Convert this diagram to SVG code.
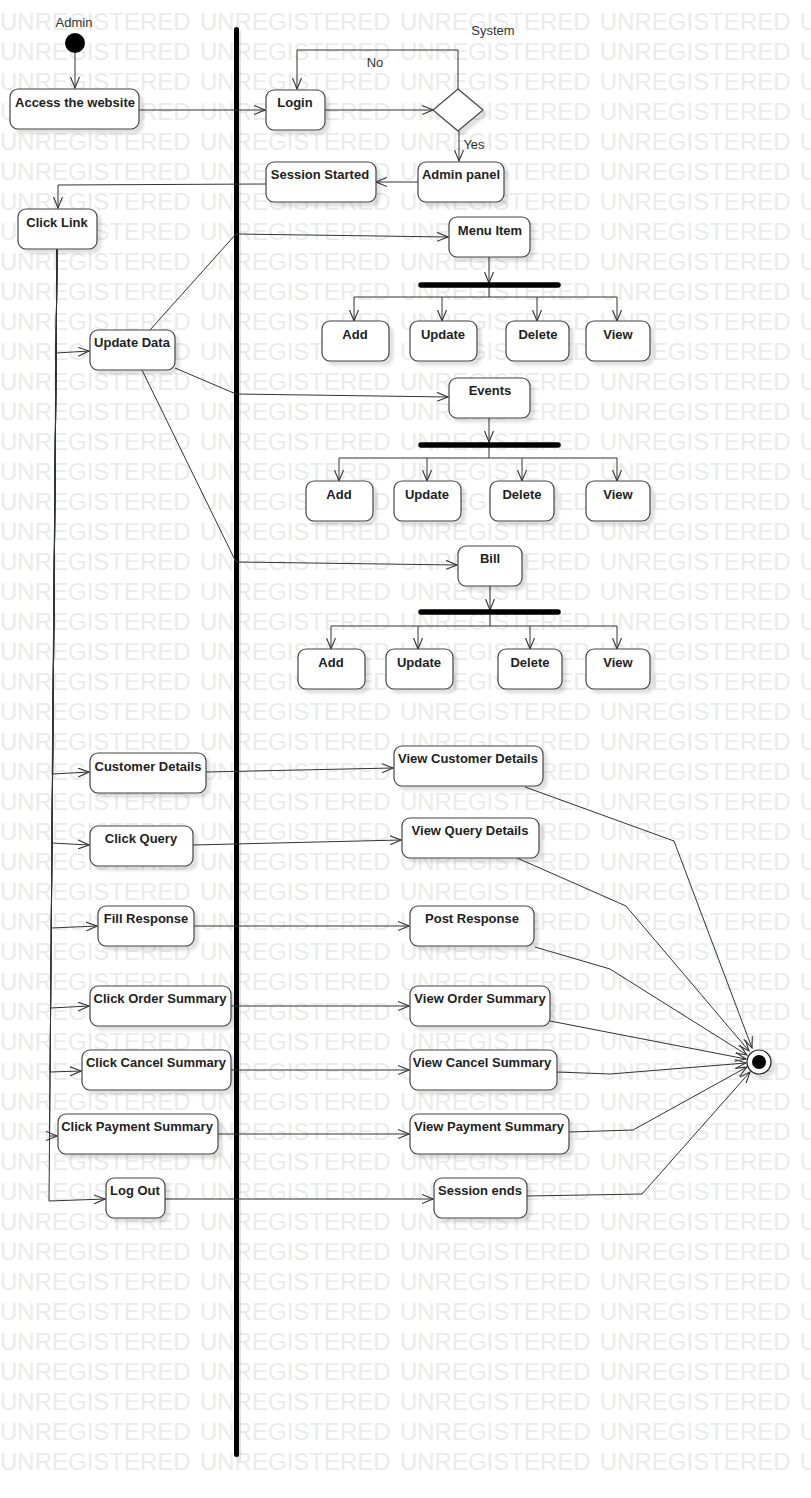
<svg xmlns="http://www.w3.org/2000/svg" width="811" height="1498" viewBox="0 0 811 1498">
<style>
.wm{font-family:"Liberation Sans",Arial,sans-serif;font-size:24px;fill:#ebebeb;word-spacing:2.6px}
.box{fill:#fff;stroke:#444;stroke-width:1.2;filter:url(#sh)}
.t{font-family:"Liberation Sans",Arial,sans-serif;font-size:13px;font-weight:bold;fill:#222;text-anchor:middle}
.lbl{font-family:"Liberation Sans",Arial,sans-serif;font-size:13px;fill:#333;text-anchor:middle}
.c{fill:none;stroke:#333;stroke-width:1}
.ca{fill:none;stroke:#333;stroke-width:1;marker-end:url(#arr)}
.fork{stroke:#000;stroke-width:5.5;stroke-linecap:round}
</style>
<defs>
<marker id="arr" viewBox="0 0 12 10" refX="11" refY="5" markerWidth="12" markerHeight="10" markerUnits="userSpaceOnUse" orient="auto"><path d="M0,0.5 L11,5 L0,9.5" fill="none" stroke="#333" stroke-width="1.1"/></marker>
<filter id="sh" x="-20%" y="-20%" width="150%" height="160%"><feDropShadow dx="4" dy="4" stdDeviation="1.5" flood-color="#000" flood-opacity="0.12"/></filter>
</defs>
<rect width="811" height="1498" fill="#fff"/>
<g id="watermark">
<text class="wm" x="0" y="30">UNREGISTERED UNREGISTERED UNREGISTERED UNREGISTERED UNREGISTERED</text>
<text class="wm" x="0" y="60">UNREGISTERED UNREGISTERED UNREGISTERED UNREGISTERED UNREGISTERED</text>
<text class="wm" x="0" y="90">UNREGISTERED UNREGISTERED UNREGISTERED UNREGISTERED UNREGISTERED</text>
<text class="wm" x="0" y="120">UNREGISTERED UNREGISTERED UNREGISTERED UNREGISTERED UNREGISTERED</text>
<text class="wm" x="0" y="150">UNREGISTERED UNREGISTERED UNREGISTERED UNREGISTERED UNREGISTERED</text>
<text class="wm" x="0" y="180">UNREGISTERED UNREGISTERED UNREGISTERED UNREGISTERED UNREGISTERED</text>
<text class="wm" x="0" y="210">UNREGISTERED UNREGISTERED UNREGISTERED UNREGISTERED UNREGISTERED</text>
<text class="wm" x="0" y="240">UNREGISTERED UNREGISTERED UNREGISTERED UNREGISTERED UNREGISTERED</text>
<text class="wm" x="0" y="270">UNREGISTERED UNREGISTERED UNREGISTERED UNREGISTERED UNREGISTERED</text>
<text class="wm" x="0" y="300">UNREGISTERED UNREGISTERED UNREGISTERED UNREGISTERED UNREGISTERED</text>
<text class="wm" x="0" y="330">UNREGISTERED UNREGISTERED UNREGISTERED UNREGISTERED UNREGISTERED</text>
<text class="wm" x="0" y="360">UNREGISTERED UNREGISTERED UNREGISTERED UNREGISTERED UNREGISTERED</text>
<text class="wm" x="0" y="390">UNREGISTERED UNREGISTERED UNREGISTERED UNREGISTERED UNREGISTERED</text>
<text class="wm" x="0" y="420">UNREGISTERED UNREGISTERED UNREGISTERED UNREGISTERED UNREGISTERED</text>
<text class="wm" x="0" y="450">UNREGISTERED UNREGISTERED UNREGISTERED UNREGISTERED UNREGISTERED</text>
<text class="wm" x="0" y="480">UNREGISTERED UNREGISTERED UNREGISTERED UNREGISTERED UNREGISTERED</text>
<text class="wm" x="0" y="510">UNREGISTERED UNREGISTERED UNREGISTERED UNREGISTERED UNREGISTERED</text>
<text class="wm" x="0" y="540">UNREGISTERED UNREGISTERED UNREGISTERED UNREGISTERED UNREGISTERED</text>
<text class="wm" x="0" y="570">UNREGISTERED UNREGISTERED UNREGISTERED UNREGISTERED UNREGISTERED</text>
<text class="wm" x="0" y="600">UNREGISTERED UNREGISTERED UNREGISTERED UNREGISTERED UNREGISTERED</text>
<text class="wm" x="0" y="630">UNREGISTERED UNREGISTERED UNREGISTERED UNREGISTERED UNREGISTERED</text>
<text class="wm" x="0" y="660">UNREGISTERED UNREGISTERED UNREGISTERED UNREGISTERED UNREGISTERED</text>
<text class="wm" x="0" y="690">UNREGISTERED UNREGISTERED UNREGISTERED UNREGISTERED UNREGISTERED</text>
<text class="wm" x="0" y="720">UNREGISTERED UNREGISTERED UNREGISTERED UNREGISTERED UNREGISTERED</text>
<text class="wm" x="0" y="750">UNREGISTERED UNREGISTERED UNREGISTERED UNREGISTERED UNREGISTERED</text>
<text class="wm" x="0" y="780">UNREGISTERED UNREGISTERED UNREGISTERED UNREGISTERED UNREGISTERED</text>
<text class="wm" x="0" y="810">UNREGISTERED UNREGISTERED UNREGISTERED UNREGISTERED UNREGISTERED</text>
<text class="wm" x="0" y="840">UNREGISTERED UNREGISTERED UNREGISTERED UNREGISTERED UNREGISTERED</text>
<text class="wm" x="0" y="870">UNREGISTERED UNREGISTERED UNREGISTERED UNREGISTERED UNREGISTERED</text>
<text class="wm" x="0" y="900">UNREGISTERED UNREGISTERED UNREGISTERED UNREGISTERED UNREGISTERED</text>
<text class="wm" x="0" y="930">UNREGISTERED UNREGISTERED UNREGISTERED UNREGISTERED UNREGISTERED</text>
<text class="wm" x="0" y="960">UNREGISTERED UNREGISTERED UNREGISTERED UNREGISTERED UNREGISTERED</text>
<text class="wm" x="0" y="990">UNREGISTERED UNREGISTERED UNREGISTERED UNREGISTERED UNREGISTERED</text>
<text class="wm" x="0" y="1020">UNREGISTERED UNREGISTERED UNREGISTERED UNREGISTERED UNREGISTERED</text>
<text class="wm" x="0" y="1050">UNREGISTERED UNREGISTERED UNREGISTERED UNREGISTERED UNREGISTERED</text>
<text class="wm" x="0" y="1080">UNREGISTERED UNREGISTERED UNREGISTERED UNREGISTERED UNREGISTERED</text>
<text class="wm" x="0" y="1110">UNREGISTERED UNREGISTERED UNREGISTERED UNREGISTERED UNREGISTERED</text>
<text class="wm" x="0" y="1140">UNREGISTERED UNREGISTERED UNREGISTERED UNREGISTERED UNREGISTERED</text>
<text class="wm" x="0" y="1170">UNREGISTERED UNREGISTERED UNREGISTERED UNREGISTERED UNREGISTERED</text>
<text class="wm" x="0" y="1200">UNREGISTERED UNREGISTERED UNREGISTERED UNREGISTERED UNREGISTERED</text>
<text class="wm" x="0" y="1230">UNREGISTERED UNREGISTERED UNREGISTERED UNREGISTERED UNREGISTERED</text>
<text class="wm" x="0" y="1260">UNREGISTERED UNREGISTERED UNREGISTERED UNREGISTERED UNREGISTERED</text>
<text class="wm" x="0" y="1290">UNREGISTERED UNREGISTERED UNREGISTERED UNREGISTERED UNREGISTERED</text>
<text class="wm" x="0" y="1320">UNREGISTERED UNREGISTERED UNREGISTERED UNREGISTERED UNREGISTERED</text>
<text class="wm" x="0" y="1350">UNREGISTERED UNREGISTERED UNREGISTERED UNREGISTERED UNREGISTERED</text>
<text class="wm" x="0" y="1380">UNREGISTERED UNREGISTERED UNREGISTERED UNREGISTERED UNREGISTERED</text>
<text class="wm" x="0" y="1410">UNREGISTERED UNREGISTERED UNREGISTERED UNREGISTERED UNREGISTERED</text>
<text class="wm" x="0" y="1440">UNREGISTERED UNREGISTERED UNREGISTERED UNREGISTERED UNREGISTERED</text>
<text class="wm" x="0" y="1470">UNREGISTERED UNREGISTERED UNREGISTERED UNREGISTERED UNREGISTERED</text>
</g>
<g id="swimlane-divider">
<rect x="234" y="27" width="5" height="1430" rx="2.5" fill="#000" filter="url(#sh)"/>
</g>
<g id="lane-labels">
<text class="lbl" x="74" y="27">Admin</text>
<text class="lbl" x="493" y="35">System</text>
</g>
<g id="connectors">
<path class="ca" d="M75,53 L75,88"/>
<path class="ca" d="M139,110 L265,110"/>
<path class="ca" d="M325,110 L433,110"/>
<path class="ca" d="M458,89 L458,50 L297,50 L297,89"/>
<text class="lbl" x="375" y="67">No</text>
<path class="ca" d="M459,131 L459,161"/>
<text class="lbl" x="474" y="149">Yes</text>
<path class="ca" d="M418,182 L376,182"/>
<path class="ca" d="M266,184 L58,185 L58,208"/>
<path class="ca" d="M57,249 L56.2,353 L89,351"/>
<path class="c" d="M150,330 L236,234"/>
<path class="ca" d="M236,234 L448,237"/>
<path class="c" d="M175,368 L236,394"/>
<path class="ca" d="M236,394 L448,397"/>
<path class="c" d="M142,370 L236,562"/>
<path class="ca" d="M236,562 L457,565"/>
<path class="ca" d="M489,257 L489,283"/>
<path class="c" d="M489,287 L489,297"/>
<path class="ca" d="M354,297 L617,297 M354,297 L354,321"/>
<path class="ca" d="M442,297 L442,321"/>
<path class="ca" d="M537,297 L537,321"/>
<path class="ca" d="M617,297 L617,321"/>
<path class="ca" d="M489,418 L489,442"/>
<path class="c" d="M489,447 L489,458 M339,458 L617,458"/>
<path class="ca" d="M339,458 L339,481"/>
<path class="ca" d="M427,458 L427,481"/>
<path class="ca" d="M522,458 L522,481"/>
<path class="ca" d="M617,458 L617,481"/>
<path class="ca" d="M490,586 L490,610"/>
<path class="c" d="M490,615 L490,626 M331,626 L617,626"/>
<path class="ca" d="M331,626 L331,649"/>
<path class="ca" d="M418,626 L418,649"/>
<path class="ca" d="M530,626 L530,649"/>
<path class="ca" d="M617,626 L617,649"/>
<path class="ca" d="M57,249 L52.2,774 L89,772"/>
<path class="ca" d="M57,249 L51.8,843 L89,845"/>
<path class="ca" d="M57,249 L51.2,928 L97,926"/>
<path class="ca" d="M57,249 L50.6,1008 L89,1006"/>
<path class="ca" d="M57,249 L50.1,1072 L81,1071"/>
<path class="ca" d="M57,249 L49.5,1136 L57,1136"/>
<path class="ca" d="M57,249 L49,1201 L105,1199"/>
<path class="ca" d="M206,772 L393,768"/>
<path class="ca" d="M193,845 L401,840"/>
<path class="ca" d="M194,926 L409,926"/>
<path class="ca" d="M231,1006 L409,1006"/>
<path class="ca" d="M231,1070 L409,1070"/>
<path class="ca" d="M218,1134 L409,1134"/>
<path class="ca" d="M165,1199 L433,1199"/>
<path class="ca" d="M525,787 L674,841 L752,1048"/>
<path class="ca" d="M517,858 L626,906 L749,1051"/>
<path class="ca" d="M535,947 L610,969 L747,1055"/>
<path class="ca" d="M550,1021 L746,1059"/>
<path class="ca" d="M557,1072 L610,1074 L746,1063"/>
<path class="ca" d="M569,1132 L633,1130 L747,1067"/>
<path class="ca" d="M527,1196 L642,1194 L750,1072"/>
</g>
<g id="start"><circle cx="75" cy="43" r="10" fill="#000"/></g>
<g id="access"><rect class="box" x="10" y="89" width="129" height="40" rx="8"/><text class="t" x="75" y="107">Access the website</text></g>
<g id="login"><rect class="box" x="266" y="90" width="59" height="40" rx="8"/><text class="t" x="295" y="107">Login</text></g>
<g id="decision"><polygon points="458,89 483,110 458,131 433,110" fill="#fff" stroke="#444" stroke-width="1.2" filter="url(#sh)"/></g>
<g id="admin-panel"><rect class="box" x="418" y="162" width="86" height="40" rx="8"/><text class="t" x="461" y="179">Admin panel</text></g>
<g id="session-started"><rect class="box" x="266" y="162" width="110" height="40" rx="8"/><text class="t" x="320" y="179">Session Started</text></g>
<g id="click-link"><rect class="box" x="18" y="209" width="79" height="40" rx="8"/><text class="t" x="57" y="227">Click Link</text></g>
<g id="update-data"><rect class="box" x="90" y="330" width="85" height="40" rx="8"/><text class="t" x="132" y="347">Update Data</text></g>
<g id="menu-item"><rect class="box" x="449" y="217" width="81" height="40" rx="8"/><text class="t" x="490" y="235">Menu Item</text></g>
<g id="fork-menu"><line class="fork" x1="421" y1="285" x2="558" y2="285"/></g>
<g id="menu-add"><rect class="box" x="322" y="321" width="67" height="40" rx="8"/><text class="t" x="355" y="339">Add</text></g>
<g id="menu-update"><rect class="box" x="410" y="321" width="67" height="40" rx="8"/><text class="t" x="443" y="339">Update</text></g>
<g id="menu-delete"><rect class="box" x="506" y="321" width="63" height="40" rx="8"/><text class="t" x="538" y="339">Delete</text></g>
<g id="menu-view"><rect class="box" x="586" y="321" width="64" height="40" rx="8"/><text class="t" x="618" y="339">View</text></g>
<g id="events"><rect class="box" x="449" y="378" width="81" height="40" rx="8"/><text class="t" x="490" y="395">Events</text></g>
<g id="fork-events"><line class="fork" x1="421" y1="445" x2="558" y2="445"/></g>
<g id="events-add"><rect class="box" x="306" y="481" width="67" height="40" rx="8"/><text class="t" x="339" y="499">Add</text></g>
<g id="events-update"><rect class="box" x="394" y="481" width="67" height="40" rx="8"/><text class="t" x="427" y="499">Update</text></g>
<g id="events-delete"><rect class="box" x="490" y="481" width="64" height="40" rx="8"/><text class="t" x="522" y="499">Delete</text></g>
<g id="events-view"><rect class="box" x="586" y="481" width="64" height="40" rx="8"/><text class="t" x="618" y="499">View</text></g>
<g id="bill"><rect class="box" x="458" y="546" width="64" height="40" rx="8"/><text class="t" x="490" y="563">Bill</text></g>
<g id="fork-bill"><line class="fork" x1="421" y1="612" x2="558" y2="612"/></g>
<g id="bill-add"><rect class="box" x="298" y="649" width="67" height="40" rx="8"/><text class="t" x="331" y="667">Add</text></g>
<g id="bill-update"><rect class="box" x="386" y="649" width="67" height="40" rx="8"/><text class="t" x="419" y="667">Update</text></g>
<g id="bill-delete"><rect class="box" x="498" y="649" width="64" height="40" rx="8"/><text class="t" x="530" y="667">Delete</text></g>
<g id="bill-view"><rect class="box" x="586" y="649" width="64" height="40" rx="8"/><text class="t" x="618" y="667">View</text></g>
<g id="customer-details"><rect class="box" x="90" y="753" width="116" height="40" rx="8"/><text class="t" x="148" y="771">Customer Details</text></g>
<g id="view-customer-details"><rect class="box" x="394" y="746" width="149" height="40" rx="8"/><text class="t" x="468" y="763">View Customer Details</text></g>
<g id="click-query"><rect class="box" x="90" y="826" width="103" height="40" rx="8"/><text class="t" x="141" y="843">Click Query</text></g>
<g id="view-query-details"><rect class="box" x="402" y="818" width="137" height="40" rx="8"/><text class="t" x="470" y="835">View Query Details</text></g>
<g id="fill-response"><rect class="box" x="98" y="906" width="96" height="40" rx="8"/><text class="t" x="146" y="923">Fill Response</text></g>
<g id="post-response"><rect class="box" x="410" y="906" width="124" height="40" rx="8"/><text class="t" x="472" y="923">Post Response</text></g>
<g id="click-order-summary"><rect class="box" x="90" y="986" width="141" height="40" rx="8"/><text class="t" x="160" y="1003">Click Order Summary</text></g>
<g id="view-order-summary"><rect class="box" x="410" y="986" width="140" height="40" rx="8"/><text class="t" x="480" y="1003">View Order Summary</text></g>
<g id="click-cancel-summary"><rect class="box" x="82" y="1050" width="149" height="40" rx="8"/><text class="t" x="156" y="1067">Click Cancel Summary</text></g>
<g id="view-cancel-summary"><rect class="box" x="410" y="1050" width="147" height="40" rx="8"/><text class="t" x="482" y="1067">View Cancel Summary</text></g>
<g id="click-payment-summary"><rect class="box" x="58" y="1114" width="160" height="40" rx="8"/><text class="t" x="137" y="1131">Click Payment Summary</text></g>
<g id="view-payment-summary"><rect class="box" x="410" y="1114" width="159" height="40" rx="8"/><text class="t" x="489" y="1131">View Payment Summary</text></g>
<g id="log-out"><rect class="box" x="106" y="1178" width="59" height="40" rx="8"/><text class="t" x="135" y="1195">Log Out</text></g>
<g id="session-ends"><rect class="box" x="434" y="1178" width="93" height="40" rx="8"/><text class="t" x="480" y="1195">Session ends</text></g>
<g id="final"><circle cx="759" cy="1062" r="12" fill="#fff" stroke="#222" stroke-width="1.2" filter="url(#sh)"/><circle cx="759" cy="1062" r="7" fill="#000"/></g>
</svg>
